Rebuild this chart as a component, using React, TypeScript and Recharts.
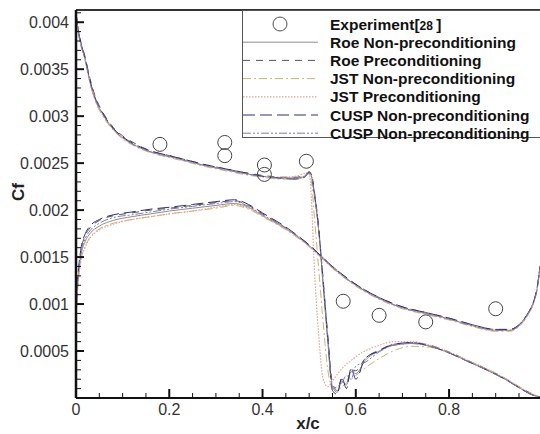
import React from 'react';
import {
  ComposedChart,
  Line,
  Scatter,
  XAxis,
  YAxis,
  ReferenceLine,
} from 'recharts';

// chordwise stations (upper / lower surface)
const xUpper = [0, 0.005, 0.01, 0.02, 0.03, 0.04, 0.06, 0.08, 0.1, 0.13, 0.16, 0.2, 0.24, 0.28, 0.32, 0.36, 0.4, 0.44, 0.47, 0.49, 0.5, 0.505, 0.51, 0.52, 0.53, 0.54, 0.55, 0.56, 0.57, 0.58, 0.59, 0.6, 0.62, 0.65, 0.68, 0.72, 0.76, 0.8, 0.84, 0.88, 0.92, 0.95, 0.98, 0.995];
const xLower = [0, 0.002, 0.005, 0.01, 0.02, 0.03, 0.05, 0.08, 0.12, 0.16, 0.2, 0.25, 0.3, 0.34, 0.37, 0.4, 0.45, 0.5, 0.55, 0.6, 0.65, 0.7, 0.75, 0.8, 0.85, 0.9, 0.93, 0.95, 0.97, 0.98, 0.99, 0.995];

const roeNonUpper = [0.0041, 0.0039, 0.00378, 0.0036, 0.00337, 0.0032, 0.003, 0.00286, 0.00277, 0.00268, 0.00262, 0.00257, 0.00252, 0.00247, 0.00243, 0.00239, 0.00236, 0.00234, 0.00234, 0.00236, 0.0024, 0.00236, 0.0022, 0.0018, 0.0012, 0.0006, 0.00012, 0.00006, 0.00018, 0.00014, 0.00028, 0.00026, 0.0004, 0.0005, 0.00056, 0.00058, 0.00055, 0.00048, 0.00039, 0.0003, 0.0002, 0.00011, 0.00003, 0.00001];
const roePreUpper = [0.0041, 0.00392, 0.0038, 0.00362, 0.0034, 0.00323, 0.00302, 0.00288, 0.00279, 0.0027, 0.00263, 0.00258, 0.00253, 0.00248, 0.00244, 0.0024, 0.00237, 0.00235, 0.00235, 0.00237, 0.00241, 0.00238, 0.00224, 0.00184, 0.00126, 0.00066, 0.00016, 0.00008, 0.0002, 0.00016, 0.0003, 0.00029, 0.00042, 0.00051, 0.00057, 0.00059, 0.00056, 0.00049, 0.0004, 0.00031, 0.00021, 0.00012, 0.00004, 0.00001];
const jstNonUpper = [0.0041, 0.00388, 0.00376, 0.00358, 0.00335, 0.00318, 0.00298, 0.00285, 0.00276, 0.00267, 0.00261, 0.00256, 0.00251, 0.00246, 0.00242, 0.00238, 0.00235, 0.00233, 0.00233, 0.00235, 0.00238, 0.0023, 0.002, 0.0014, 0.0008, 0.0003, 0.0001, 0.00008, 0.00012, 0.00016, 0.0002, 0.00024, 0.00032, 0.00042, 0.0005, 0.00055, 0.00054, 0.00048, 0.0004, 0.00031, 0.00021, 0.00012, 0.00004, 0.00001];
const jstPreUpper = [0.0041, 0.0039, 0.00377, 0.00359, 0.00336, 0.00319, 0.00299, 0.00286, 0.00277, 0.00268, 0.00262, 0.00257, 0.00252, 0.00247, 0.00243, 0.00239, 0.00236, 0.00235, 0.00236, 0.00239, 0.0024, 0.0021, 0.0015, 0.0007, 0.0002, 0.00012, 0.00018, 0.00025, 0.00031, 0.00036, 0.0004, 0.00044, 0.0005, 0.00056, 0.0006, 0.0006, 0.00056, 0.00049, 0.0004, 0.00031, 0.00021, 0.00012, 0.00004, 0.00001];
const cuspNonUpper = [0.0041, 0.00391, 0.00379, 0.00361, 0.00338, 0.00321, 0.00301, 0.00287, 0.00278, 0.00269, 0.00263, 0.00258, 0.00253, 0.00248, 0.00244, 0.0024, 0.00236, 0.00234, 0.00233, 0.00235, 0.0024, 0.00238, 0.00222, 0.00182, 0.00124, 0.00064, 0.00008, 0.00004, 0.00022, 0.0001, 0.00032, 0.0002, 0.00042, 0.0005, 0.00057, 0.00059, 0.00055, 0.00048, 0.00039, 0.0003, 0.0002, 0.00011, 0.00003, 0.00001];
const cuspNon2Upper = [0.0041, 0.00389, 0.00377, 0.0036, 0.00336, 0.0032, 0.003, 0.00286, 0.00277, 0.00268, 0.00262, 0.00257, 0.00252, 0.00247, 0.00243, 0.00239, 0.00236, 0.00234, 0.00234, 0.00236, 0.00239, 0.00236, 0.00221, 0.00181, 0.00122, 0.00062, 0.0001, 0.00012, 0.00016, 0.00024, 0.0002, 0.00034, 0.00038, 0.00049, 0.00056, 0.00058, 0.00055, 0.00048, 0.00039, 0.0003, 0.0002, 0.00011, 0.00003, 0.00001];

const roeNonLower = [0.0008, 0.0011, 0.0013, 0.0015, 0.00167, 0.00175, 0.00183, 0.00189, 0.00193, 0.00196, 0.00199, 0.00202, 0.00205, 0.00207, 0.00203, 0.00194, 0.0018, 0.00162, 0.00139, 0.0012, 0.00106, 0.00096, 0.0009, 0.00084, 0.00077, 0.00072, 0.00072, 0.00077, 0.0009, 0.001, 0.0012, 0.0014];
const roePreLower = [0.0008, 0.00112, 0.00133, 0.00155, 0.00173, 0.00181, 0.00189, 0.00194, 0.00197, 0.002, 0.00202, 0.00205, 0.00208, 0.0021, 0.00205, 0.00196, 0.00181, 0.00163, 0.0014, 0.00121, 0.00107, 0.00097, 0.00091, 0.00085, 0.00078, 0.00073, 0.00073, 0.00078, 0.00091, 0.00101, 0.00121, 0.0014];
const jstNonLower = [0.0008, 0.00105, 0.00125, 0.00145, 0.00162, 0.00171, 0.0018, 0.00186, 0.0019, 0.00193, 0.00196, 0.00199, 0.00202, 0.00205, 0.00201, 0.00193, 0.00179, 0.00161, 0.00138, 0.00119, 0.00105, 0.00095, 0.00089, 0.00083, 0.00076, 0.00071, 0.00071, 0.00076, 0.00089, 0.00099, 0.00119, 0.0014];
const jstPreLower = [0.0008, 0.00104, 0.00124, 0.00144, 0.00161, 0.0017, 0.00179, 0.00185, 0.0019, 0.00193, 0.00196, 0.00199, 0.00203, 0.00206, 0.00202, 0.00194, 0.0018, 0.00162, 0.00139, 0.0012, 0.00106, 0.00096, 0.0009, 0.00084, 0.00077, 0.00072, 0.00072, 0.00077, 0.0009, 0.001, 0.0012, 0.0014];
const cuspNonLower = [0.0008, 0.00113, 0.00135, 0.00157, 0.00175, 0.00183, 0.0019, 0.00195, 0.00198, 0.00201, 0.00203, 0.00206, 0.00209, 0.00211, 0.00206, 0.00197, 0.00182, 0.00163, 0.0014, 0.00121, 0.00107, 0.00097, 0.00091, 0.00085, 0.00078, 0.00073, 0.00073, 0.00078, 0.00091, 0.00101, 0.00121, 0.0014];
const cuspNon2Lower = [0.0008, 0.0011, 0.00131, 0.00152, 0.0017, 0.00178, 0.00186, 0.00192, 0.00195, 0.00198, 0.00201, 0.00204, 0.00207, 0.00209, 0.00204, 0.00195, 0.00181, 0.00162, 0.00139, 0.0012, 0.00106, 0.00096, 0.0009, 0.00084, 0.00077, 0.00072, 0.00072, 0.00077, 0.0009, 0.001, 0.0012, 0.0014];

// experiment [28]
const expX = [0.18, 0.319, 0.319, 0.404, 0.404, 0.494, 0.573, 0.65, 0.75, 0.9];
const expCf = [0.0027, 0.00272, 0.00258, 0.00248, 0.00238, 0.00252, 0.00103, 0.00088, 0.00081, 0.00095];

const xMajorTicks = [0, 0.2, 0.4, 0.6, 0.8];
const xMajorLabels = ['0', '0.2', '0.4', '0.6', '0.8'];
const yMajorTicks = [0, 0.0005, 0.001, 0.0015, 0.002, 0.0025, 0.003, 0.0035, 0.004];
const yMajorLabels = ['', '0.0005', '0.001', '0.0015', '0.002', '0.0025', '0.003', '0.0035', '0.004'];

const X_MAX = 0.995;
const Y_MAX = 0.00413;
const PLOT_LEFT = 76;
const PLOT_BOTTOM = 398;
const FONT = '"Liberation Sans", Arial, sans-serif';

const xTicks = Array.from({ length: 20 }, (_, i) => Number((i * 0.05).toFixed(2)));
const yTicks = Array.from({ length: 42 }, (_, i) => Number((i * 0.0001).toFixed(4)));

const toPoints = (xs: number[], ys: number[]) => xs.map((x, i) => ({ x, cf: ys[i] }));

const series = [
  { name: 'Roe Non-preconditioning', upper: roeNonUpper, lower: roeNonLower, color: '#8c8c8c', dash: undefined, width: 1 },
  { name: 'Roe Preconditioning', upper: roePreUpper, lower: roePreLower, color: '#555555', dash: '7 6', width: 1 },
  { name: 'JST Non-preconditioning', upper: jstNonUpper, lower: jstNonLower, color: '#c9b66e', dash: '8 3 2 3', width: 1 },
  { name: 'JST Preconditioning', upper: jstPreUpper, lower: jstPreLower, color: '#e6a090', dash: '1.5 1.5', width: 1.2 },
  { name: 'CUSP Non-preconditioning', upper: cuspNonUpper, lower: cuspNonLower, color: '#2e2e78', dash: '12 5', width: 1 },
  { name: 'CUSP Non-preconditioning', upper: cuspNon2Upper, lower: cuspNon2Lower, color: '#7c7cae', dash: '8 2 2 2 2 2', width: 1 },
];

const expPoints = toPoints(expX, expCf);

function findIndex(list: number[], v: number) {
  return list.findIndex((m) => Math.abs(m - v) < 1e-9);
}

function YTick({ y, payload }: any) {
  const idx = findIndex(yMajorTicks, payload.value);
  const major = idx >= 0;
  return (
    <g>
      <line x1={PLOT_LEFT} x2={PLOT_LEFT + (major ? 8 : 5)} y1={y} y2={y} stroke="#111" strokeWidth={major ? 2 : 1} />
      {major && (
        <text x={69} y={y + 6} textAnchor="end" fontSize={16} fontFamily={FONT} fill="#333">
          {yMajorLabels[idx]}
        </text>
      )}
    </g>
  );
}

function XTick({ x, payload }: any) {
  const idx = findIndex(xMajorTicks, payload.value);
  const major = idx >= 0;
  return (
    <g>
      <line x1={x} x2={x} y1={PLOT_BOTTOM} y2={PLOT_BOTTOM - (major ? 9 : 5)} stroke="#111" strokeWidth={major ? 2 : 1} />
      {major && (
        <text x={x} y={415} textAnchor="middle" fontSize={16} fontFamily={FONT} fill="#333">
          {xMajorLabels[idx]}
        </text>
      )}
    </g>
  );
}

function ExpCircle({ cx, cy }: any) {
  return <circle cx={cx} cy={cy} r={7} fill="none" stroke="#444" strokeWidth={1} />;
}

function LegendBox() {
  const rowH = 18.2;
  const rows = [{ name: 'Experiment[28 ]', exp: true } as any, ...series];
  return (
    <div
      style={{
        position: 'absolute',
        left: 242,
        top: 10,
        width: 320,
        height: 128,
        border: '1px solid #555',
        background: '#fff',
        boxSizing: 'border-box',
      }}
    >
      <svg width={320} height={140} style={{ overflow: 'visible', display: 'block' }}>
        {rows.map((r, i) => {
          const cy = 13 + i * rowH;
          return (
            <g key={i}>
              {r.exp ? (
                <circle cx={37} cy={cy} r={7} fill="none" stroke="#555" strokeWidth={1} />
              ) : (
                <line x1={0} x2={75} y1={cy} y2={cy} stroke={r.color} strokeWidth={r.width} strokeDasharray={r.dash} />
              )}
              <text x={87} y={cy + 5.5} fontSize={15.5} fontWeight="bold" fontFamily={FONT} fill="#111">
                {r.exp ? (
                  <>
                    Experiment[<tspan fontSize={12}>28 </tspan>]
                  </>
                ) : (
                  r.name
                )}
              </text>
            </g>
          );
        })}
      </svg>
    </div>
  );
}

export default function App() {
  return (
    <div style={{ position: 'absolute', left: 0, top: 0, width: 540, height: 434, background: '#fff', overflow: 'hidden' }}>
      <ComposedChart width={540} height={434} margin={{ top: 10, right: 0, bottom: 0, left: 0 }}>
        <XAxis
          dataKey="x"
          type="number"
          domain={[0, X_MAX]}
          ticks={xTicks}
          interval={0}
          allowDataOverflow
          height={36}
          tick={<XTick />}
          tickLine={false}
          axisLine={{ stroke: '#111', strokeWidth: 2 }}
          label={{
            content: () => (
              <text x={308} y={429} textAnchor="middle" fontSize={17} fontWeight="bold" fontFamily={FONT} fill="#222">
                x/c
              </text>
            ),
          }}
        />
        <YAxis
          type="number"
          domain={[0, Y_MAX]}
          ticks={yTicks}
          interval={0}
          allowDataOverflow
          width={76}
          tick={<YTick />}
          tickLine={false}
          axisLine={{ stroke: '#111', strokeWidth: 2.5 }}
          label={{
            content: () => (
              <text x={24} y={192} transform="rotate(-90 24 192)" textAnchor="middle" fontSize={17} fontWeight="bold" fontFamily={FONT} fill="#222">
                Cf
              </text>
            ),
          }}
        />
        <ReferenceLine y={Y_MAX} stroke="#333" strokeWidth={2} />
        {series.map((s, i) => (
          <Line
            key={`u${i}`}
            data={toPoints(xUpper, s.upper)}
            dataKey="cf"
            type="monotoneX"
            stroke={s.color}
            strokeWidth={s.width}
            strokeDasharray={s.dash}
            dot={false}
            isAnimationActive={false}
          />
        ))}
        {series.map((s, i) => (
          <Line
            key={`l${i}`}
            data={toPoints(xLower, s.lower)}
            dataKey="cf"
            type="monotoneX"
            stroke={s.color}
            strokeWidth={s.width}
            strokeDasharray={s.dash}
            dot={false}
            isAnimationActive={false}
          />
        ))}
        <Scatter data={expPoints} dataKey="cf" shape={<ExpCircle />} isAnimationActive={false} />
      </ComposedChart>
      <LegendBox />
    </div>
  );
}
